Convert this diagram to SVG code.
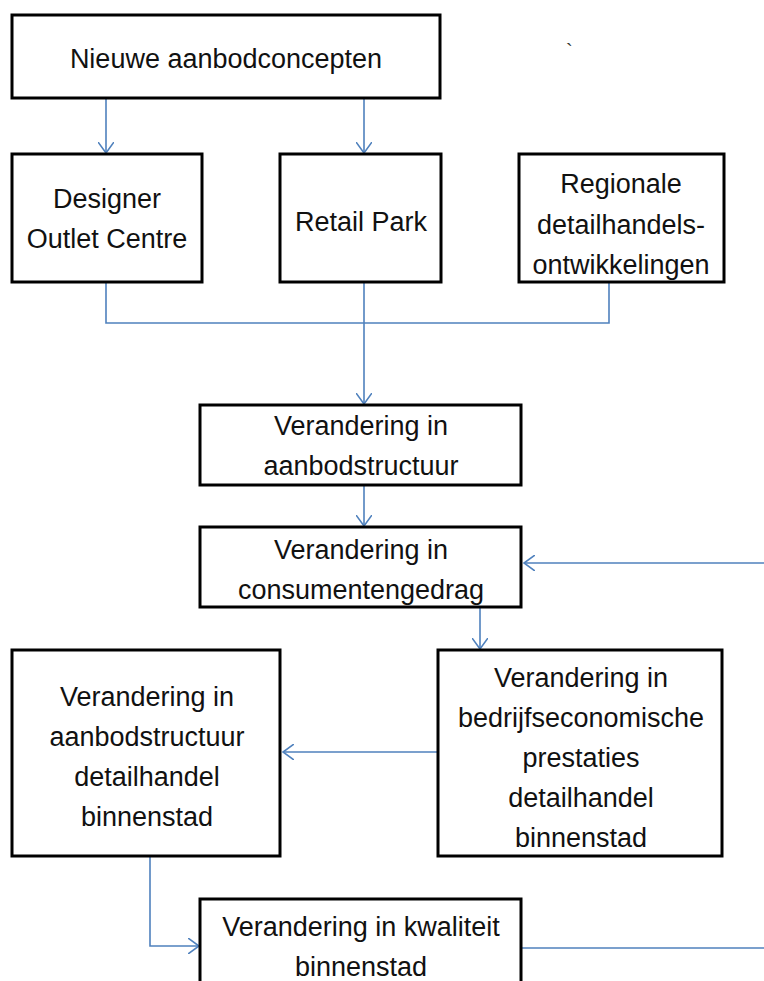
<svg xmlns="http://www.w3.org/2000/svg" width="764" height="981" viewBox="0 0 764 981">
<style>
.box{fill:#fff;stroke:#000;stroke-width:3}
.t{font-family:"Liberation Sans",Arial,sans-serif;font-size:27px;fill:#111;text-anchor:middle}
.c{fill:none;stroke:#4F81BD;stroke-width:1.6}
</style>
<defs>
<marker id="a" viewBox="0 0 12 16" refX="11" refY="8" markerWidth="12" markerHeight="16" markerUnits="userSpaceOnUse" orient="auto">
<path d="M0,0 L11,8 L0,16" fill="none" stroke="#4F81BD" stroke-width="1.6"/>
</marker>
</defs>
<rect width="764" height="981" fill="#fff"/>
<g id="connectors">
<line class="c" x1="106" y1="98" x2="106" y2="153" marker-end="url(#a)"/>
<line class="c" x1="364" y1="98" x2="364" y2="153" marker-end="url(#a)"/>
<polyline class="c" points="106,282 106,323 609,323 609,282"/>
<line class="c" x1="364" y1="282" x2="364" y2="404" marker-end="url(#a)"/>
<line class="c" x1="364" y1="485" x2="364" y2="526" marker-end="url(#a)"/>
<line class="c" x1="764" y1="563" x2="524" y2="563" marker-end="url(#a)"/>
<line class="c" x1="480" y1="607" x2="480" y2="649" marker-end="url(#a)"/>
<line class="c" x1="438" y1="752" x2="283" y2="752" marker-end="url(#a)"/>
<polyline class="c" points="150,856 150,946 199,946" marker-end="url(#a)"/>
<line class="c" x1="521" y1="948" x2="764" y2="948"/>
</g>
<g id="n1"><rect class="box" x="12" y="15" width="428" height="83"/><text class="t" x="226" y="68">Nieuwe aanbodconcepten</text></g>
<text x="566" y="58" style="font-family:'Liberation Sans',sans-serif;font-size:20px;fill:#333">`</text>
<g id="n2"><rect class="box" x="12" y="154" width="190" height="128"/><text class="t" x="107" y="208">Designer</text><text class="t" x="107" y="248">Outlet Centre</text></g>
<g id="n3"><rect class="box" x="280" y="154" width="161" height="128"/><text class="t" x="361" y="231">Retail Park</text></g>
<g id="n4"><rect class="box" x="519" y="154" width="205" height="128"/><text class="t" x="621" y="193">Regionale</text><text class="t" x="621" y="234">detailhandels-</text><text class="t" x="621" y="274">ontwikkelingen</text></g>
<g id="n5"><rect class="box" x="200" y="405" width="321" height="80"/><text class="t" x="361" y="435">Verandering in</text><text class="t" x="361" y="475">aanbodstructuur</text></g>
<g id="n6"><rect class="box" x="200" y="527" width="321" height="80"/><text class="t" x="361" y="559">Verandering in</text><text class="t" x="361" y="599">consumentengedrag</text></g>
<g id="n7"><rect class="box" x="438" y="650" width="284" height="206"/><text class="t" x="581" y="687">Verandering in</text><text class="t" x="581" y="727">bedrijfseconomische</text><text class="t" x="581" y="767">prestaties</text><text class="t" x="581" y="807">detailhandel</text><text class="t" x="581" y="847">binnenstad</text></g>
<g id="n8"><rect class="box" x="12" y="650" width="268" height="206"/><text class="t" x="147" y="706">Verandering in</text><text class="t" x="147" y="746">aanbodstructuur</text><text class="t" x="147" y="786">detailhandel</text><text class="t" x="147" y="826">binnenstad</text></g>
<g id="n9"><rect class="box" x="200" y="899" width="321" height="100"/><text class="t" x="361" y="936">Verandering in kwaliteit</text><text class="t" x="361" y="976">binnenstad</text></g>
</svg>
